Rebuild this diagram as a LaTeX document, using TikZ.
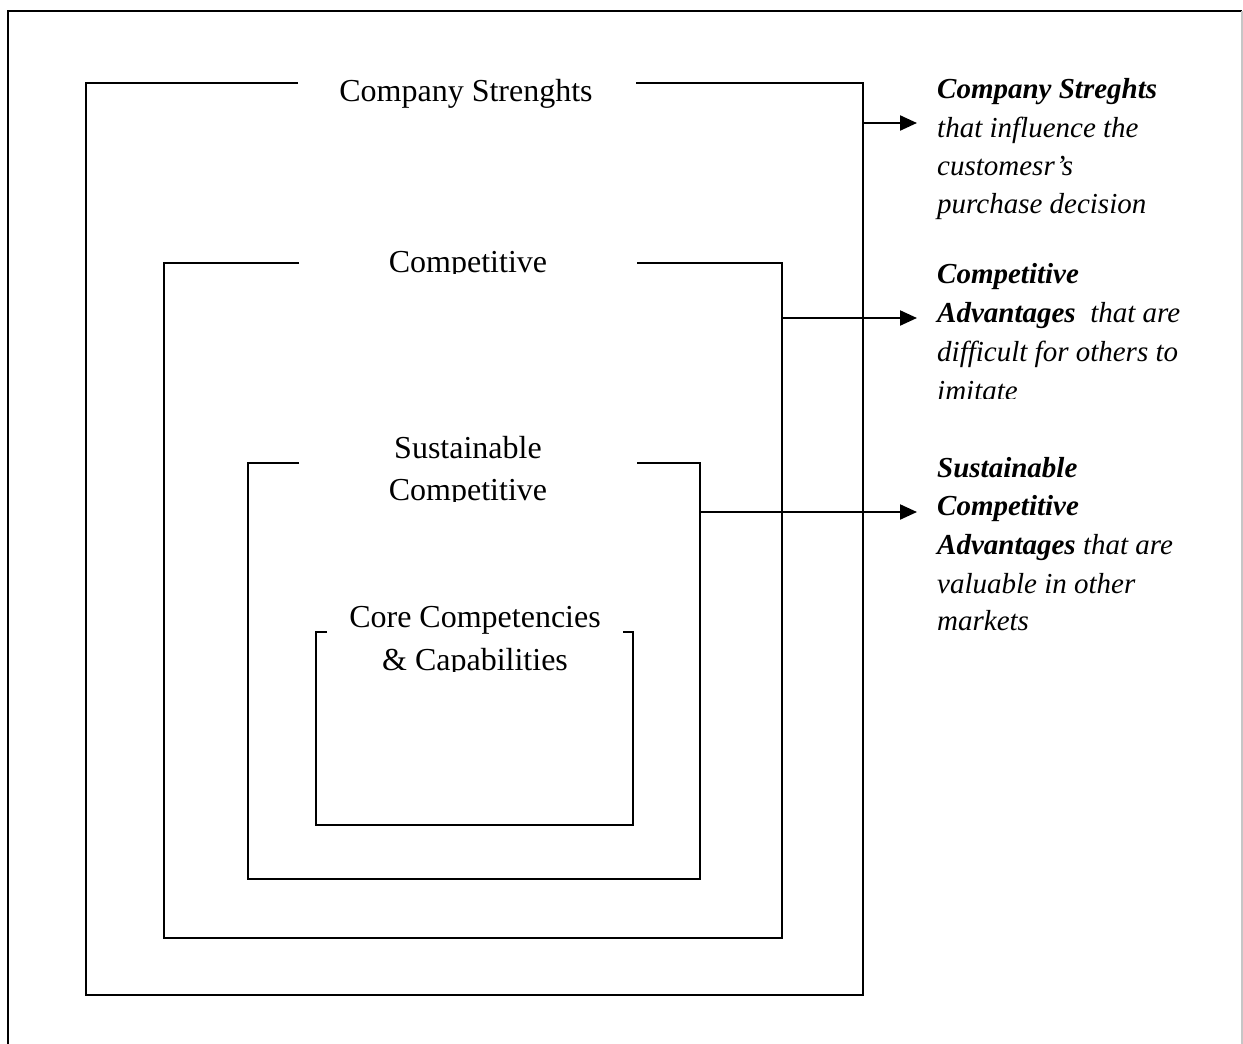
\documentclass[tikz,border=0pt]{standalone}
\usepackage{fontspec}
\setmainfont{Liberation Serif}
\usetikzlibrary{arrows.meta}
\begin{document}
\begin{tikzpicture}[x=1pt,y=-1pt,
  frame/.style={line width=2.4pt, black},
  boxlabel/.style={font=\fontsize{32}{38}\selectfont, anchor=base, inner sep=0pt},
  note/.style={font=\fontsize{29}{38}\selectfont\itshape, anchor=base west, inner sep=0pt},
  pointer/.style={line width=2.2pt, -{Triangle[length=17pt,width=15pt]}}]
\useasboundingbox (0,0) rectangle (1243,1044);
% page border
\draw[line width=2.4pt] (8,1044) -- (8,11) -- (1242,11);
\draw[line width=1.5pt, gray!45] (1242,11) -- (1242,1044);

% nested boxes, open at the top where the titles sit
\draw[frame] (298,83) -- (86,83) -- (86,995) -- (863,995) -- (863,83) -- (636,83);
\draw[frame] (299,263) -- (164,263) -- (164,938) -- (782,938) -- (782,263) -- (637,263);
\draw[frame] (299,463) -- (248,463) -- (248,879) -- (700,879) -- (700,463) -- (637,463);
\draw[frame] (327,632) -- (316,632) -- (316,825) -- (633,825) -- (633,632) -- (623,632);

% box titles
\node[boxlabel] (lblA) at (466,101) {Company Strenghts};
\begin{scope}
  \clip (150,200) rectangle (800,273);
  \node[boxlabel] (lblB) at (468,272) {Competitive};
\end{scope}
\begin{scope}
  \clip (150,400) rectangle (800,501);
  \node[boxlabel] (lblC1) at (468,458) {Sustainable};
  \node[boxlabel] (lblC2) at (468,500) {Competitive};
\end{scope}
\begin{scope}
  \clip (150,580) rectangle (800,671);
  \node[boxlabel] (lblD1) at (475,627) {Core Competencies};
  \node[boxlabel] (lblD2) at (475,670) {\&~Capabilities};
\end{scope}

% pointers
\coordinate (p1s) at (863,123);
\coordinate (p1e) at (917,123);
\coordinate (p2s) at (782,318);
\coordinate (p2e) at (917,318);
\coordinate (p3s) at (700,512);
\coordinate (p3e) at (917,512);
\draw[pointer] (p1s) -- (p1e);
\draw[pointer] (p2s) -- (p2e);
\draw[pointer] (p3s) -- (p3e);

% side notes
\node[note] (n1a) at (937,98)  {\textbf{Company Streghts}};
\node[note] (n1b) at (937,137) {that influence the};
\node[note] (n1c) at (937,175) {customesr’s};
\node[note] (n1d) at (937,213) {purchase decision};

\node[note] (n2a) at (937,283) {\textbf{Competitive}};
\node[note] (n2b) at (937,322) {\textbf{Advantages}\ \ that are};
\node[note] (n2c) at (937,361) {difficult for others to};
\begin{scope}
  \clip (930,370) rectangle (1230,398);
  \node[note] (n2d) at (937,400) {imitate};
\end{scope}

\node[note] (n3a) at (937,477) {\textbf{Sustainable}};
\node[note] (n3b) at (937,515) {\textbf{Competitive}};
\node[note] (n3c) at (937,554) {\textbf{Advantages} that are};
\node[note] (n3d) at (937,593) {valuable in other};
\node[note] (n3e) at (937,630) {markets};
\end{tikzpicture}
\end{document}
